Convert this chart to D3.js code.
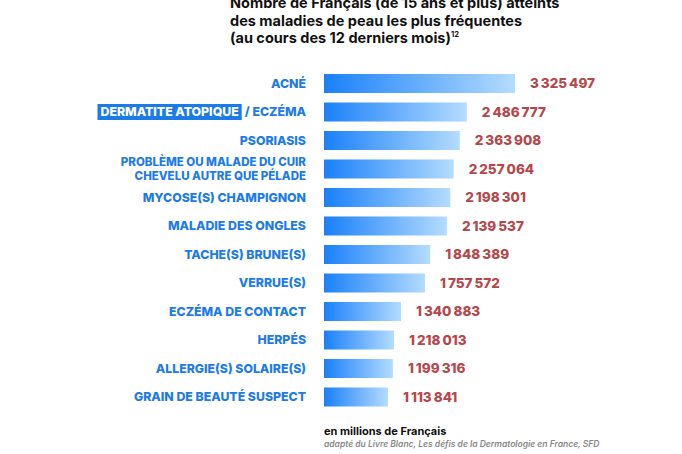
<!DOCTYPE html>
<html><head><meta charset="utf-8">
<script src="https://cdn.jsdelivr.net/npm/d3@7"></script>
<style>
html,body{margin:0;padding:0;background:#fff;}
svg{display:block;font-family:"Inter","Open Sans",sans-serif;}
</style></head>
<body>
<svg id="chart" width="682" height="454"></svg>
<script>
const categories = [
  "ACNÉ",
  "DERMATITE ATOPIQUE / ECZÉMA",
  "PSORIASIS",
  "PROBLÈME OU MALADE DU CUIR|CHEVELU AUTRE QUE PÉLADE",
  "MYCOSE(S) CHAMPIGNON",
  "MALADIE DES ONGLES",
  "TACHE(S) BRUNE(S)",
  "VERRUE(S)",
  "ECZÉMA DE CONTACT",
  "HERPÉS",
  "ALLERGIE(S) SOLAIRE(S)",
  "GRAIN DE BEAUTÉ SUSPECT"
];
const values = [3325497, 2486777, 2363908, 2257064, 2198301, 2139537, 1848389, 1757572, 1340883, 1218013, 1199316, 1113841];
const titleLines = [
  "Nombre de Français (de 15 ans et plus) atteints",
  "des maladies de peau les plus fréquentes",
  "(au cours des 12 derniers mois)"
];
const titleSup = "12";
const unitNote = "en millions de Français";
const sourceNote = "adapté du Livre Blanc, Les défis de la Dermatologie en France, SFD";

const svg = d3.select("#chart");
const blue = "#1c7be6", valColor = "#b5474a";

const defs = svg.append("defs");
const grad = defs.append("linearGradient").attr("id","barGrad").attr("x1","0").attr("x2","1").attr("y1","0").attr("y2","0");
grad.append("stop").attr("offset","0%").attr("stop-color","#1a80fb");
grad.append("stop").attr("offset","100%").attr("stop-color","#b4dcfe");

const x = d3.scaleLinear().domain([0, d3.max(values)]).range([324, 515]);
const y = d3.scaleBand().domain(categories).range([74, 406.5]).paddingInner(0.333).paddingOuter(0);

const data = categories.map((c,i)=>({c, v: values[i]}));

// title
[8, 26, 43].forEach((yy,i)=>{
  const t = svg.append("text").attr("x",230).attr("y",yy).attr("font-weight",700).attr("font-size",14.5).attr("fill","#111").text(titleLines[i]);
  if (i === 2) t.append("tspan").attr("dy",-6).attr("font-size",7.5).text(titleSup);
});

// bars
svg.selectAll("rect.bar").data(data).join("rect").attr("class","bar")
  .attr("x", x(0)).attr("y", d=>y(d.c)).attr("height", y.bandwidth())
  .attr("width", d=>x(d.v)-x(0)).attr("fill","url(#barGrad)");

// value labels
const fmt = v => d3.format(",")(v).replace(/,/g,"\u2009");
svg.selectAll("text.val").data(data).join("text").attr("class","val")
  .attr("x", d=>x(d.v)+15).attr("y", d=>y(d.c)+y.bandwidth()/2)
  .attr("dy","0.36em").attr("font-size",13.5).attr("font-weight",800).attr("fill",valColor)
  .text(d=>fmt(d.v));

// category labels
const fs = 12.3;
data.forEach((d,i)=>{
  const cy = y(d.c)+y.bandwidth()/2;
  const g = svg.append("g");
  if (d.c.includes("|")) {
    const parts = d.c.split("|");
    parts.forEach((p,j)=>{
      g.append("text").attr("x",306).attr("y",cy + (j===0?-7:7)).attr("dy","0.36em")
        .attr("text-anchor","end").attr("font-size",11.5).attr("font-weight",800).attr("fill",blue).text(p);
    });
  } else if (d.c.startsWith("DERMATITE")) {
    const txt = g.append("text").attr("x",306).attr("y",cy).attr("dy","0.36em")
      .attr("text-anchor","end").attr("font-size",fs).attr("font-weight",800).attr("fill",blue);
    const hi = "DERMATITE ATOPIQUE";
    txt.append("tspan").attr("fill","#fff").text(hi);
    txt.append("tspan").text("\u2002/ ECZÉMA");
    const node = txt.node();
    const bb = node.getBBox();
    const len = node.getSubStringLength(0, hi.length);
    g.insert("rect","text").attr("x", bb.x-3).attr("y", cy-8).attr("width", len+6).attr("height",16).attr("fill","#1c7be6");
  } else {
    g.append("text").attr("x",306).attr("y",cy).attr("dy","0.36em")
      .attr("text-anchor","end").attr("font-size",fs).attr("font-weight",800).attr("fill",blue).text(d.c);
  }
});

// notes
svg.append("text").attr("x",324).attr("y",435).attr("font-size",11).attr("font-weight",700).attr("fill","#111").text(unitNote);
svg.append("text").attr("x",324).attr("y",447).attr("font-size",8.5).attr("font-style","italic").attr("font-weight",600).attr("fill","#888").text(sourceNote);
</script>
</body></html>
